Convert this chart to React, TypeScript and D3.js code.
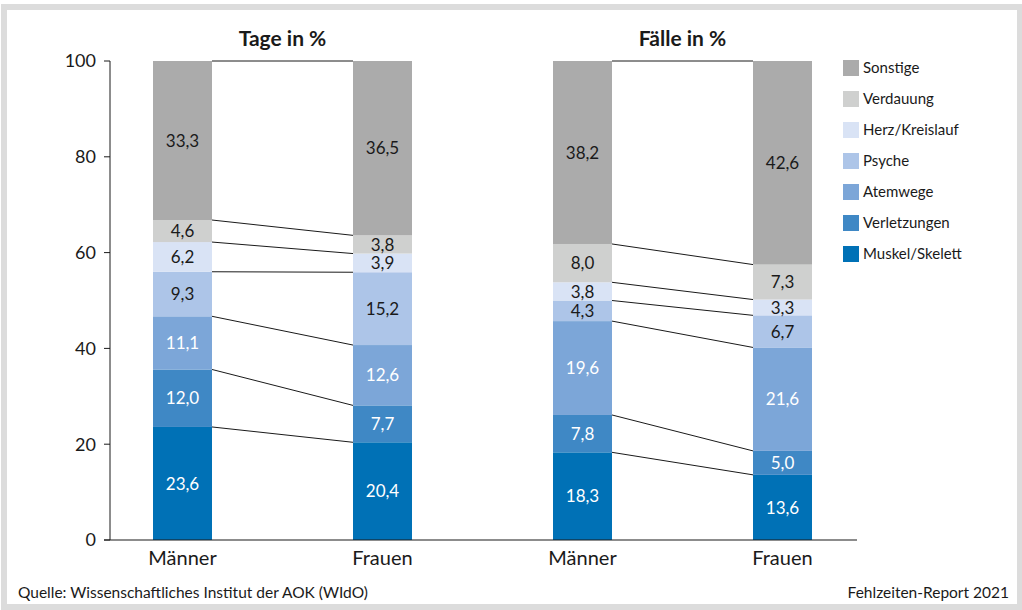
import React from "react";
import * as d3 from "d3";

const categories = ["Muskel/Skelett", "Verletzungen", "Atemwege", "Psyche", "Herz/Kreislauf", "Verdauung", "Sonstige"];
const colors = ["#0071b6", "#3f88c5", "#7ca6d8", "#adc5e8", "#d9e3f5", "#cfd0cf", "#ababab"];
const darkText = [false, false, false, true, true, true, true];

const tageMaenner = [23.6, 12.0, 11.1, 9.3, 6.2, 4.6, 33.3];
const tageFrauen = [20.4, 7.7, 12.6, 15.2, 3.9, 3.8, 36.5];
const faelleMaenner = [18.3, 7.8, 19.6, 4.3, 3.8, 8.0, 38.2];
const faelleFrauen = [13.6, 5.0, 21.6, 6.7, 3.3, 7.3, 42.6];

const barKeys = ["tm", "tf", "fm", "ff"];
const barLabels = ["Männer", "Frauen", "Männer", "Frauen"];
const panelTitles = ["Tage in %", "Fälle in %"];
const yTicks = [0, 20, 40, 60, 80, 100];

const FONT = "Lato, 'Open Sans', sans-serif";

const stackUp = (vals: number[]) => {
  let acc = 0;
  return vals.map(v => {
    const y0 = acc;
    acc = Math.min(100, acc + v);
    return { y0, y1: acc, v };
  });
};

const fmt = (v: number) => v.toFixed(1).replace(".", ",");

export default function App() {
  const width = 1022;
  const height = 610;
  const barW = 59;

  const y = d3.scaleLinear().domain([0, 100]).range([540, 61]);
  const x = d3.scalePoint<string>().domain(barKeys).range([182.5, 782.5]);

  const series = [tageMaenner, tageFrauen, faelleMaenner, faelleFrauen].map(stackUp);

  // connecting lines between Männer/Frauen in each panel
  const pairs = [[0, 1], [2, 3]];

  return (
    <svg width={width} height={height} style={{ position: "absolute", left: 0, top: 0 }} fontFamily={FONT}>
      <rect x={0} y={0} width={width} height={height} fill="#fff" />
      <rect x={4} y={7} width={1016} height={600} fill="none" stroke="#dcdcdc" strokeWidth={6} />

      {/* connectors */}
      {pairs.map(([a, b], pi) => {
        const xa = (x(barKeys[a]) as number) + barW / 2;
        const xb = (x(barKeys[b]) as number) - barW / 2;
        return series[a].map((s, i) => (
          <line key={`c${pi}-${i}`} x1={xa} x2={xb} y1={y(s.y1)} y2={y(series[b][i].y1)}
            stroke="#1a1a1a" strokeWidth={1} />
        ));
      })}

      {/* bars */}
      {series.map((stack, bi) => {
        const cx = x(barKeys[bi]) as number;
        return (
          <g key={`b${bi}`}>
            {stack.map((s, i) => (
              <rect key={i} x={cx - barW / 2} y={y(s.y1)} width={barW} height={y(s.y0) - y(s.y1)} fill={colors[i]} />
            ))}
            {stack.map((s, i) => (
              <text key={`t${i}`} x={cx} y={(y(s.y0) + y(s.y1)) / 2} dy="0.36em" textAnchor="middle"
                fontSize={17} fill={darkText[i] ? "#1a1a1a" : "#fff"}>
                {fmt(s.v)}
              </text>
            ))}
            <text x={cx} y={565} textAnchor="middle" fontSize={20} fill="#1a1a1a">{barLabels[bi]}</text>
          </g>
        );
      })}

      {/* y axis */}
      <line x1={110} x2={110} y1={y(100)} y2={y(0)} stroke="#1a1a1a" strokeWidth={1} />
      <line x1={104} x2={857} y1={y(0)} y2={y(0)} stroke="#1a1a1a" strokeWidth={1.2} />
      {yTicks.map(t => (
        <g key={t}>
          <line x1={104} x2={110} y1={y(t)} y2={y(t)} stroke="#1a1a1a" />
          <text x={96} y={y(t)} dy="0.36em" textAnchor="end" fontSize={18} fill="#1a1a1a">{t}</text>
        </g>
      ))}

      {/* panel titles */}
      {panelTitles.map((t, i) => {
        const cx = ((x(barKeys[i * 2]) as number) + (x(barKeys[i * 2 + 1]) as number)) / 2;
        return (
          <text key={t} x={cx} y={46} textAnchor="middle" fontSize={21} fontWeight="bold" fill="#1a1a1a">{t}</text>
        );
      })}

      {/* legend */}
      {categories.slice().reverse().map((c, k) => {
        const i = categories.length - 1 - k;
        const cy = 68 + k * 31;
        return (
          <g key={c}>
            <rect x={843} y={cy - 8} width={16} height={16} fill={colors[i]} />
            <text x={863} y={cy} dy="0.36em" fontSize={15} fill="#1a1a1a">{c}</text>
          </g>
        );
      })}

      {/* footer */}
      <text x={18} y={598} fontSize={15.5} fill="#1a1a1a">Quelle: Wissenschaftliches Institut der AOK (WIdO)</text>
      <text x={1009} y={598} textAnchor="end" fontSize={15.5} fill="#1a1a1a">Fehlzeiten-Report 2021</text>
    </svg>
  );
}
